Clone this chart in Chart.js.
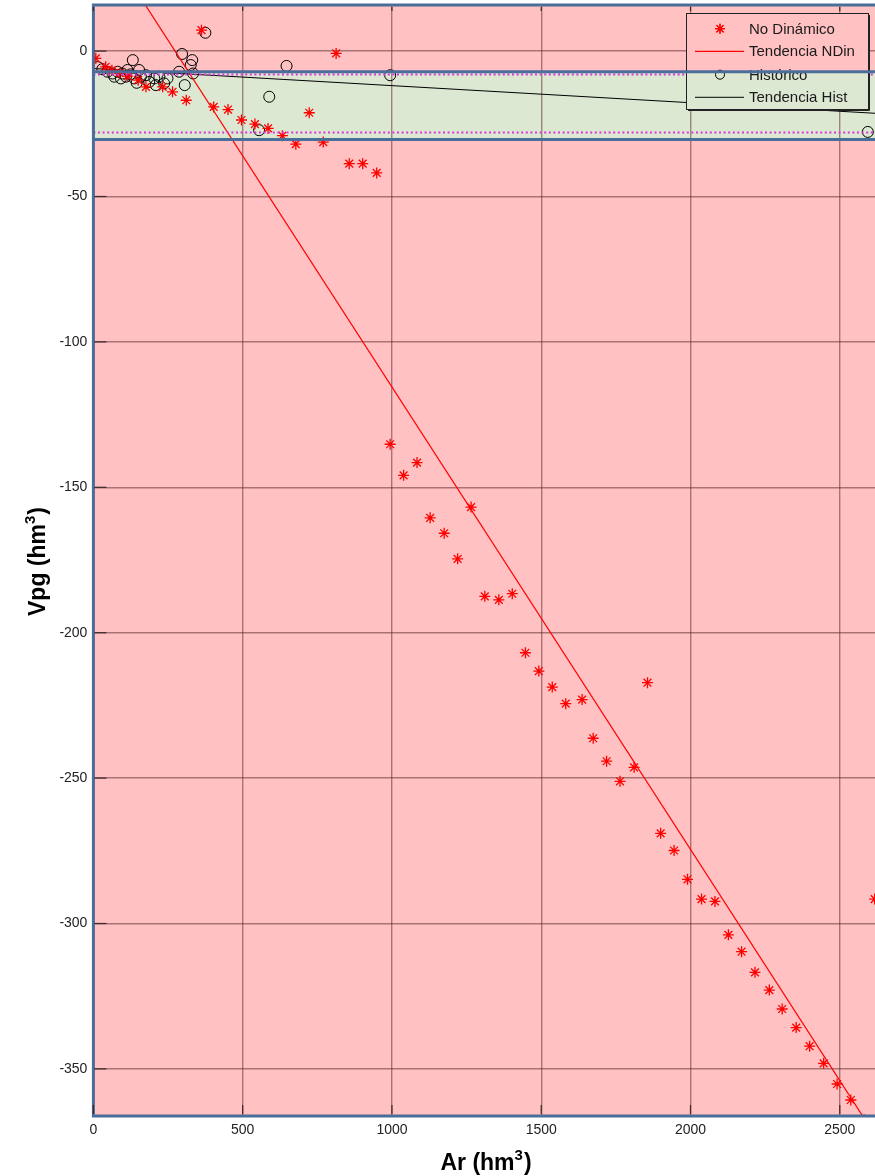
<!DOCTYPE html>
<html>
<head>
<meta charset="utf-8">
<script src="https://cdn.jsdelivr.net/npm/chart.js@4/dist/chart.umd.min.js"></script>
<style>
  html, body { margin: 0; padding: 0; background: #ffffff; }
  canvas { display: block; }
</style>
</head>
<body>
<canvas id="chart" width="875" height="1176"></canvas>
<script>
// No Dinámico (red asterisks)
const ND_X = [8, 41, 62, 88, 115, 150, 176, 232, 265, 311, 362, 403, 451, 496, 541, 585, 633, 678, 723, 770,
              813, 857, 902, 949, 994, 1039, 1084, 1128, 1175, 1220, 1265, 1311, 1358, 1403, 1447, 1492, 1537, 1582, 1637, 1674,
              1719, 1764, 1811, 1856, 1900, 1945, 1990, 2037, 2082, 2127, 2171, 2216, 2264, 2307, 2354, 2399, 2446, 2491, 2537, 2582, 2617];
const ND_Y = [-2.5, -5.4, -6.6, -7.6, -8.6, -10.0, -12.3, -12.3, -14.0, -16.9, 7.2, -19.2, -20.1, -23.7, -25.1, -26.6, -29.1, -32.0, -21.2, -31.3,
              -0.8, -38.7, -38.7, -41.9, -135.2, -145.9, -141.5, -160.5, -165.8, -174.6, -156.8, -187.5, -188.7, -186.6, -206.9, -213.2, -218.7, -224.4, -223.0, -236.3,
              -244.2, -251.1, -246.3, -217.2, -269.0, -274.9, -284.8, -291.6, -292.4, -303.9, -309.7, -316.8, -322.9, -329.4, -335.8, -342.2, -348.1, -355.2, -360.7, -367.5, -291.6];

// Histórico (black circles)
const HI_X = [15, 30, 47, 64, 81, 97, 114, 70, 92, 109, 125, 137, 153, 159, 176, 187, 204, 209, 221, 237,
              248, 145, 132, 287, 297, 306, 326, 331, 334, 375, 555, 589, 647, 994, 2594];
const HI_Y = [-5.5, -6.2, -7.1, -7.7, -7.1, -7.7, -6.5, -8.8, -9.4, -8.8, -8.0, -9.4, -6.5, -8.8, -8.3, -10.6, -9.4, -11.7, -8.8, -11.1,
              -9.4, -10.9, -3.1, -7.1, -1.0, -11.7, -4.8, -3.1, -7.7, 6.3, -27.2, -15.7, -5.1, -8.3, -27.8];

// trend lines (end points)
const NDIN_TREND_X = [0, 2620];
const NDIN_TREND_Y = [43.5, -373.1];
const HIST_TREND_X = [0, 2620];
const HIST_TREND_Y = [-6.0, -21.4];

// shaded band (blue edges) and dotted limits
const BAND = [-30.4, -7.1];
const LIMITS = [-27.9, -7.9];

// axes
const X_TICKS = [0, 500, 1000, 1500, 2000, 2500];
const Y_TICKS = [-350, -300, -250, -200, -150, -100, -50, 0];
const X_RANGE = [0, 2618];
const Y_RANGE = [-366.2, 15.85];

const PINK = '#ffc1c1';
const GREEN = '#dde8d3';
const BLUE = '#4a6d9a';
const FONT = "'Liberation Sans', Arial, Helvetica, sans-serif";

function pts(xs, ys) {
    return xs.map((x, i) => ({ x: x, y: ys[i] }));
}

function drawBackground(ctx, a, y) {
    ctx.fillStyle = PINK;
    ctx.fillRect(a.left, a.top, a.right - a.left, a.bottom - a.top);
    const top = y.getPixelForValue(BAND[1]);
    const bot = y.getPixelForValue(BAND[0]);
    ctx.fillStyle = GREEN;
    ctx.fillRect(a.left, top, a.right - a.left, bot - top);
}

// text with a raised "3"
function supText(ctx, x, y, base, sup, tail, align) {
    const big = 'bold 23px ' + FONT, small = 'bold 15px ' + FONT;
    ctx.font = big;
    const w1 = ctx.measureText(base).width, w3 = ctx.measureText(tail).width;
    ctx.font = small;
    const w2 = ctx.measureText(sup).width;
    let sx = align === 'center' ? x - (w1 + w2 + w3) / 2 : x;
    ctx.textAlign = 'left';
    ctx.textBaseline = 'alphabetic';
    ctx.font = big;
    ctx.fillText(base, sx, y);
    ctx.font = small;
    ctx.fillText(sup, sx + w1, y - 10);
    ctx.font = big;
    ctx.fillText(tail, sx + w1 + w2 + 1, y);
}

const decorPlugin = {
    id: 'decor',
    beforeDraw(chart) {
        const ctx = chart.ctx, a = chart.chartArea;
        ctx.save();
        drawBackground(ctx, a, chart.scales.y);
        ctx.restore();
    },
    afterDatasetsDraw(chart) {
        const ctx = chart.ctx, a = chart.chartArea;
        const xs = chart.scales.x, ys = chart.scales.y;
        ctx.save();

        // dotted magenta limits
        ctx.strokeStyle = '#dd33dd';
        ctx.lineWidth = 2.2;
        ctx.setLineDash([2, 2.6]);
        LIMITS.forEach(v => {
            const py = Math.round(ys.getPixelForValue(v)) + 0.5;
            ctx.beginPath();
            ctx.moveTo(a.left, py);
            ctx.lineTo(a.right, py);
            ctx.stroke();
        });
        ctx.setLineDash([]);

        // legend box
        const L = { x: 686, y: 13, w: 182, h: 96 };
        ctx.save();
        ctx.beginPath();
        ctx.rect(L.x, L.y, L.w, L.h);
        ctx.clip();
        drawBackground(ctx, a, ys);
        ctx.restore();
        ctx.strokeStyle = '#222';
        ctx.lineWidth = 1;
        ctx.strokeRect(L.x + 0.5, L.y + 0.5, L.w, L.h);
        ctx.beginPath();
        ctx.moveTo(L.x + 2, L.y + L.h + 1.5);
        ctx.lineTo(L.x + L.w + 1.5, L.y + L.h + 1.5);
        ctx.lineTo(L.x + L.w + 1.5, L.y + 2);
        ctx.stroke();

        const rows = [28.7, 51.3, 74.7, 97.3];
        const labels = chart.data.datasets.map(d => d.label);
        const mx = 720;
        // asterisk
        ctx.strokeStyle = '#ff0000';
        ctx.lineWidth = 1.2;
        Chart.helpers.drawPoint(ctx, { pointStyle: 'star', radius: 5, borderWidth: 1.2 }, mx, rows[0]);
        ctx.stroke();
        // red line
        ctx.beginPath();
        ctx.moveTo(695, rows[1]);
        ctx.lineTo(744, rows[1]);
        ctx.stroke();
        // circle
        ctx.strokeStyle = '#000';
        ctx.lineWidth = 1;
        ctx.beginPath();
        ctx.arc(mx, rows[2], 4.5, 0, Math.PI * 2);
        ctx.stroke();
        // black line
        ctx.beginPath();
        ctx.moveTo(695, rows[3]);
        ctx.lineTo(744, rows[3]);
        ctx.stroke();

        ctx.fillStyle = '#1a1a1a';
        ctx.font = '15px ' + FONT;
        ctx.textAlign = 'left';
        ctx.textBaseline = 'middle';
        labels.forEach((t, i) => ctx.fillText(t, 749, rows[i] + 1));

        // blue band edges and plot frame
        ctx.strokeStyle = BLUE;
        ctx.lineWidth = 3;
        BAND.forEach(v => {
            const py = ys.getPixelForValue(v);
            ctx.beginPath();
            ctx.moveTo(a.left, py);
            ctx.lineTo(a.right, py);
            ctx.stroke();
        });
        ctx.beginPath();
        ctx.moveTo(a.right + 2, a.top);
        ctx.lineTo(a.left, a.top);
        ctx.lineTo(a.left, a.bottom);
        ctx.lineTo(a.right + 2, a.bottom);
        ctx.stroke();

        // tick marks inside the box
        ctx.strokeStyle = '#3a2a2a';
        ctx.lineWidth = 1.2;
        Y_TICKS.forEach(v => {
            const py = ys.getPixelForValue(v);
            ctx.beginPath();
            ctx.moveTo(a.left + 1, py);
            ctx.lineTo(a.left + 13, py);
            ctx.stroke();
        });
        X_TICKS.forEach(v => {
            const px = xs.getPixelForValue(v);
            ctx.beginPath();
            ctx.moveTo(px, a.bottom - 2);
            ctx.lineTo(px, a.bottom - 11);
            ctx.moveTo(px, a.top + 2);
            ctx.lineTo(px, a.top + 6);
            ctx.stroke();
        });
        ctx.restore();
    },
    afterDraw(chart) {
        const ctx = chart.ctx;
        ctx.save();
        ctx.fillStyle = '#000';
        supText(ctx, 485.5, 1170, 'Ar (hm', '3', ')', 'center');
        ctx.translate(45, 562);
        ctx.rotate(-Math.PI / 2);
        supText(ctx, 0, 0, 'Vpg (hm', '3', ')', 'center');
        ctx.restore();
    }
};

const gridStyle = { color: 'rgba(85, 35, 35, 0.5)', lineWidth: 1.4, drawTicks: false };

new Chart(document.getElementById('chart').getContext('2d'), {
    type: 'scatter',
    data: {
        datasets: [{
            label: 'No Dinámico',
            data: pts(ND_X, ND_Y),
            pointStyle: 'star',
            pointRadius: 5.5,
            borderColor: '#ff0000',
            backgroundColor: '#ff0000',
            borderWidth: 1.3
        }, {
            label: 'Tendencia NDin',
            type: 'line',
            data: pts(NDIN_TREND_X, NDIN_TREND_Y),
            borderColor: '#ff0000',
            borderWidth: 1.2,
            pointRadius: 0,
            fill: false
        }, {
            label: 'Histórico',
            data: pts(HI_X, HI_Y),
            pointStyle: 'circle',
            pointRadius: 5.5,
            borderColor: '#000000',
            backgroundColor: 'rgba(0,0,0,0)',
            borderWidth: 1
        }, {
            label: 'Tendencia Hist',
            type: 'line',
            data: pts(HIST_TREND_X, HIST_TREND_Y),
            borderColor: '#000000',
            borderWidth: 1,
            pointRadius: 0,
            fill: false
        }]
    },
    options: {
        responsive: false,
        animation: false,
        events: [],
        layout: { autoPadding: false, padding: { top: 5, left: 0, right: 0, bottom: 0 } },
        plugins: { legend: { display: false }, tooltip: { enabled: false } },
        scales: {
            x: {
                type: 'linear',
                min: X_RANGE[0],
                max: X_RANGE[1],
                afterBuildTicks: s => { s.ticks = X_TICKS.map(v => ({ value: v })); },
                afterFit: s => { s.height = 60; s.paddingLeft = 0; s.paddingRight = 0; },
                grid: gridStyle,
                border: { display: false },
                ticks: { font: { family: FONT, size: 14 }, color: '#222', padding: 6, maxRotation: 0,
                         callback: v => String(v) }
            },
            y: {
                type: 'linear',
                min: Y_RANGE[0],
                max: Y_RANGE[1],
                afterBuildTicks: s => { s.ticks = Y_TICKS.map(v => ({ value: v })); },
                afterFit: s => { s.width = 93.4; s.paddingTop = 0; s.paddingBottom = 0; },
                grid: gridStyle,
                border: { display: false },
                ticks: { font: { family: FONT, size: 14 }, color: '#222', padding: 6,
                         callback: v => String(v) }
            }
        }
    },
    plugins: [decorPlugin]
});
</script>
</body>
</html>
